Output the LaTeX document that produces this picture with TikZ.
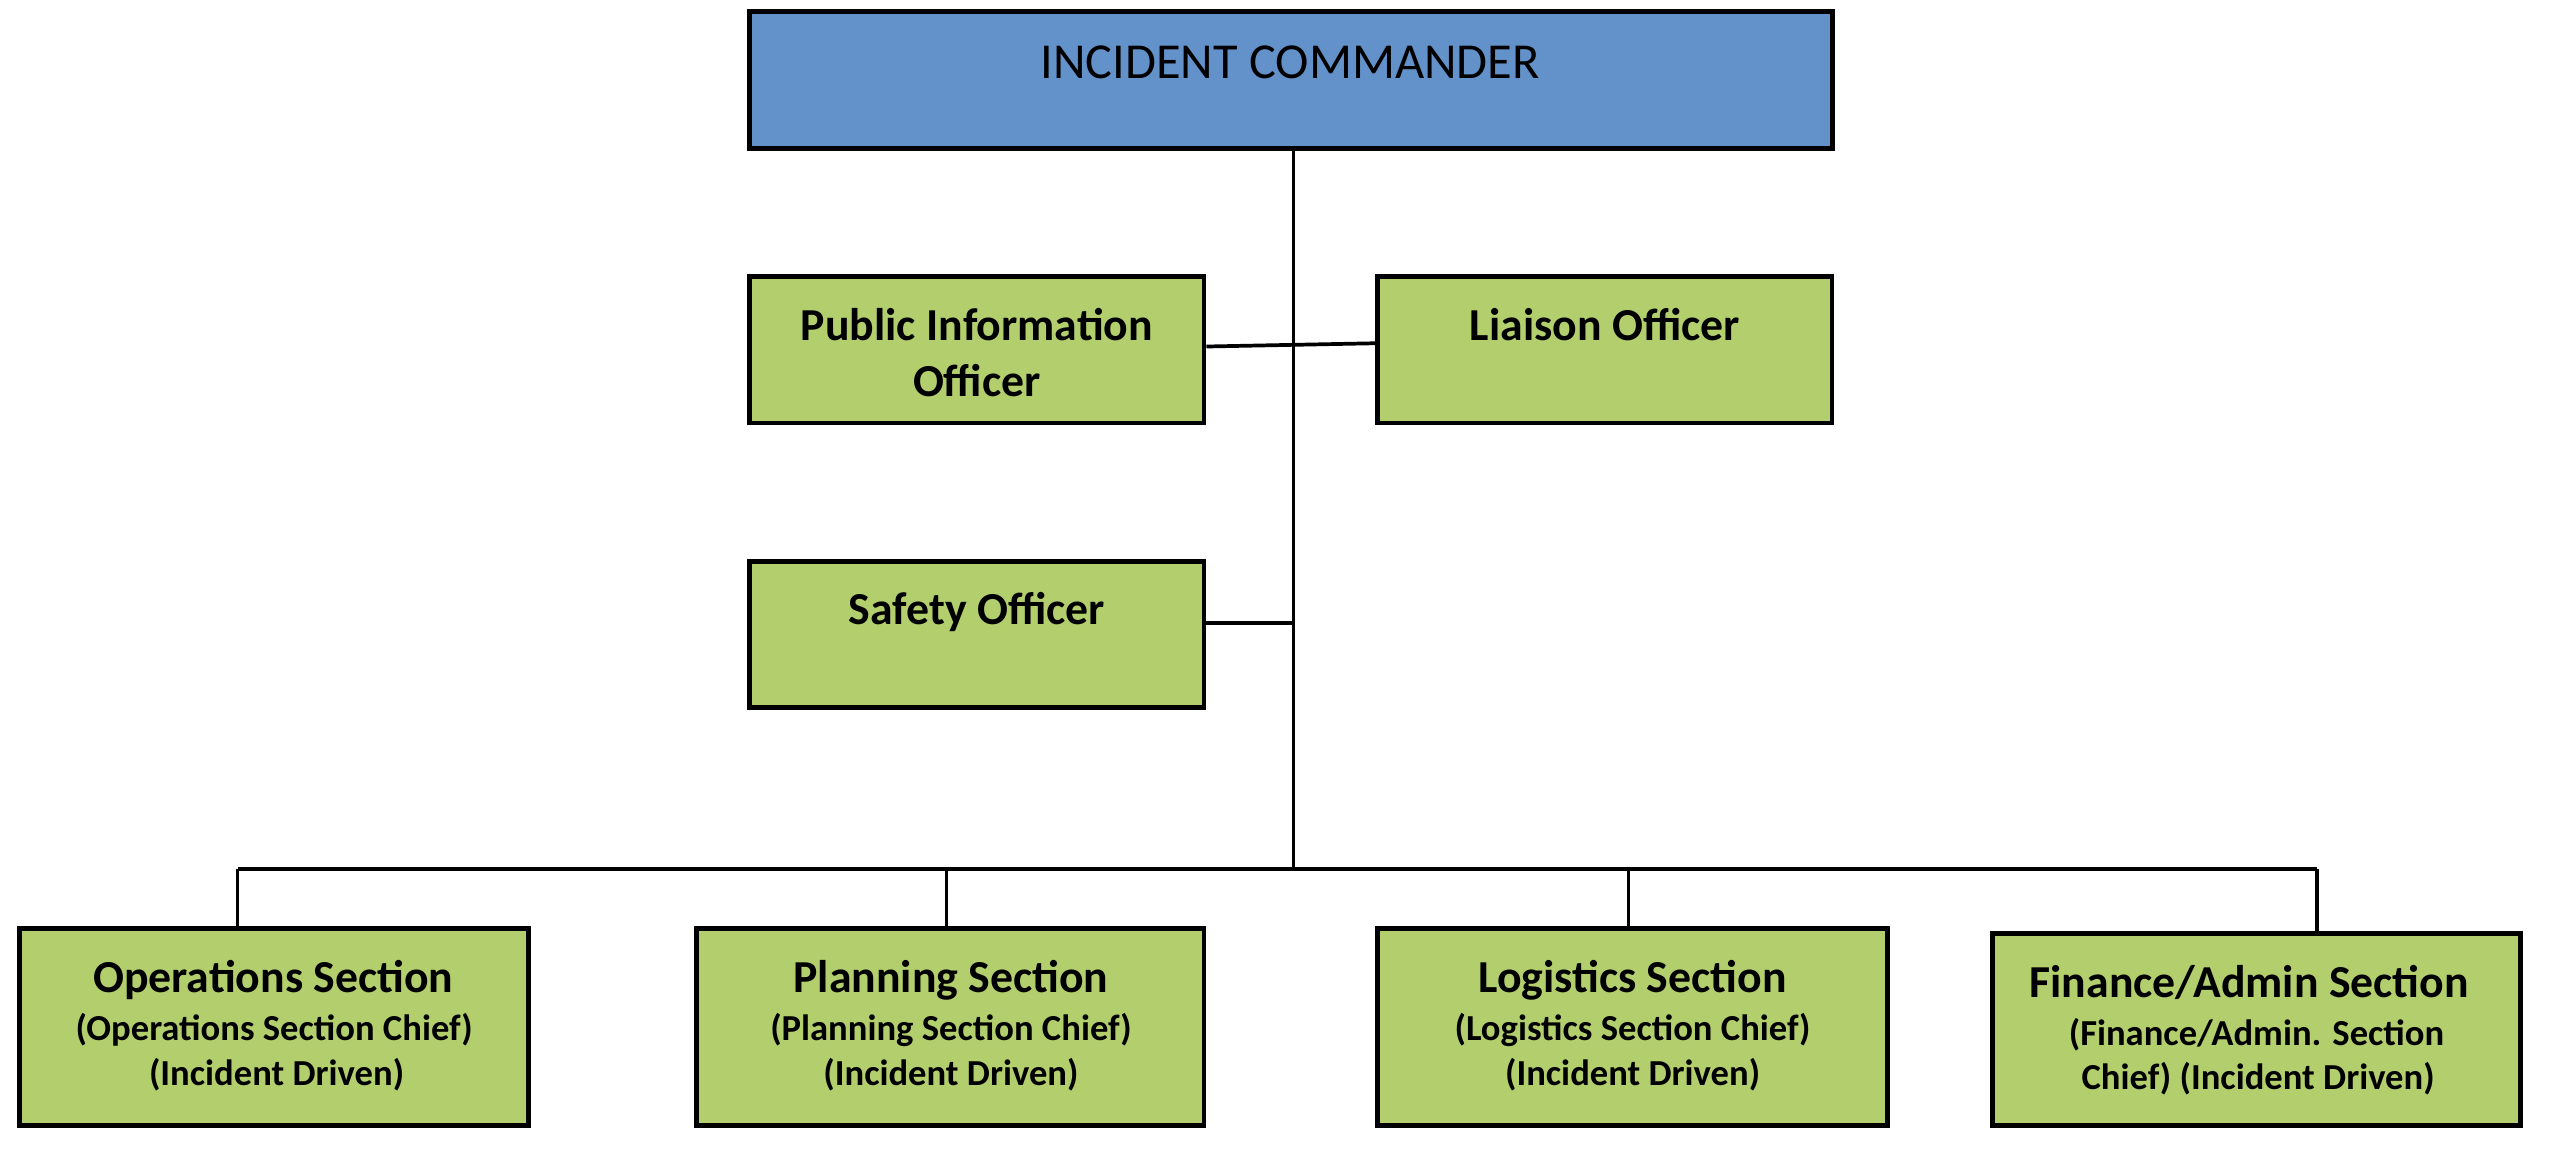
\documentclass[tikz,border=0pt]{standalone}
\usepackage{fontspec}
\setmainfont{Carlito}
\definecolor{icblue}{HTML}{6392CA}
\definecolor{boxgreen}{HTML}{B3CF6D}
\begin{document}
\begin{tikzpicture}[x=0.01cm,y=-0.01cm,
  box/.style={draw=black,line width=0.85pt,inner sep=0pt,anchor=center},
  gbox/.style={box,fill=boxgreen},
  bbox/.style={box,fill=icblue},
  ttl/.style={anchor=base,inner sep=0pt,font=\fontsize{8}{9.6}\selectfont\bfseries},
  sub/.style={anchor=base,inner sep=0pt,font=\fontsize{6.4}{7.7}\selectfont\bfseries},
  ictext/.style={anchor=base,inner sep=0pt,font=\fontsize{8.8}{10.5}\selectfont},
  conn/.style={draw=black,line width=0.55pt},
  busline/.style={draw=black,line width=0.75pt}]
\useasboundingbox (0,0) rectangle (1568,713);
% boxes
\node[bbox,minimum width=6.65cm,minimum height=0.84cm] (ic) at (793.5,49) {};
\node[gbox,minimum width=2.79cm,minimum height=0.90cm] (pio) at (600.5,215) {};
\node[gbox,minimum width=2.79cm,minimum height=0.90cm] (lo) at (986.5,215) {};
\node[gbox,minimum width=2.79cm,minimum height=0.90cm] (so) at (600.5,390) {};
\node[gbox,minimum width=3.13cm,minimum height=1.21cm] (ops) at (168.5,631.5) {};
\node[gbox,minimum width=3.12cm,minimum height=1.21cm] (pln) at (584,631.5) {};
\node[gbox,minimum width=3.13cm,minimum height=1.21cm] (log) at (1003.5,631.5) {};
\node[gbox,minimum width=3.24cm,minimum height=1.18cm] (fin) at (1387,633) {};
% texts
\node[ictext] (ict) at (793,48) {INCIDENT COMMANDER};
\node[ttl] (piot1) at (600.5,209) {Public Information};
\node[ttl] (piot2) at (600.5,244) {Officer};
\node[ttl] (lot) at (986.5,209) {Liaison Officer};
\node[ttl] (sot) at (600.5,384) {Safety Officer};
\node[ttl] (opst) at (168,610) {Operations Section};
\node[sub] (opss1) at (168.5,639.5) {(Operations Section Chief)};
\node[sub] (opss2) at (170,667.5) {(Incident Driven)};
\node[ttl] (plnt) at (584.5,610) {Planning Section};
\node[sub] (plns1) at (584.5,639.5) {(Planning Section Chief)};
\node[sub] (plns2) at (584.5,667.5) {(Incident Driven)};
\node[ttl] (logt) at (1003.5,610) {Logistics Section};
\node[sub] (logs1) at (1003.5,639.5) {(Logistics Section Chief)};
\node[sub] (logs2) at (1003.5,667.5) {(Incident Driven)};
\node[ttl] (fint) at (1382.5,613) {Finance/Admin Section};
\node[sub] (fins1) at (1387,642.5) {(Finance/Admin. Section};
\node[sub] (fins2) at (1388,669.5) {Chief) (Incident Driven)};
% connectors
\coordinate (bc) at (795,534);
\coordinate (b1) at (146,534);
\coordinate (b2) at (582,534);
\coordinate (b3) at (1001,534);
\coordinate (b4) at (1424,534);
\draw[conn] (ic.south -| bc) -- (bc);
\draw[conn,line width=0.65pt] ([yshift=0.02cm]pio.east) -- ([yshift=0.04cm]lo.west);
\draw[conn,line width=0.7pt] ([yshift=0.07cm]so.east) -- ([yshift=0.07cm]so.east -| bc);
\draw[busline] (b1) -- (b4);
\draw[conn] (b1) -- (b1 |- ops.north);
\draw[conn] (b2) -- (b2 |- pln.north);
\draw[conn] (b3) -- (b3 |- log.north);
\draw[busline] (b4) -- (b4 |- fin.north);
\end{tikzpicture}
\end{document}
